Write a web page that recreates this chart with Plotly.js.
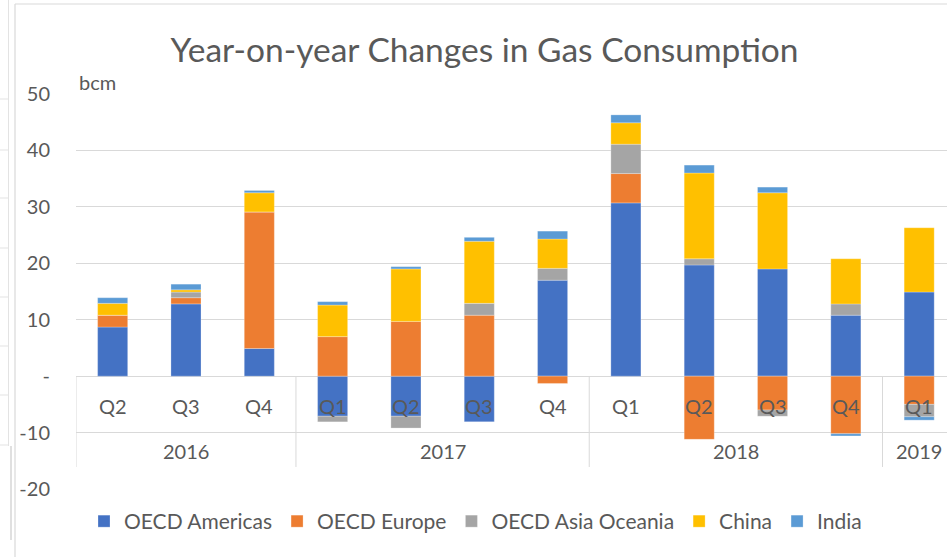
<!DOCTYPE html>
<html>
<head>
<meta charset="utf-8">
<script src="https://cdn.plot.ly/plotly-3.0.1.min.js"></script>
<style>
  html, body { margin: 0; padding: 0; background: #ffffff; overflow: hidden; }
  #chart { width: 947px; height: 557px; }
</style>
</head>
<body>
<div id="chart"></div>
<script>
// ---- data (bcm, year-on-year change) ----
const quarters = ['Q2','Q3','Q4','Q1','Q2','Q3','Q4','Q1','Q2','Q3','Q4','Q1'];
const quarterYears = ['2016','2016','2016','2017','2017','2017','2017','2018','2018','2018','2018','2019'];
const seriesNames = ['OECD Americas','OECD Europe','OECD Asia Oceania','China','India'];
const oecdAmericas    = [8.7, 12.8, 4.9, -7.1, -7.1, -8.1, 17.0, 30.7, 19.7, 19.0, 10.8, 14.9];
const oecdEurope      = [2.1, 1.1, 24.2, 7.0, 9.7, 10.8, -1.3, 5.2, -11.2, -6.0, -10.2, -5.0];
const oecdAsiaOceania = [0.0, 1.0, 0.0, -1.0, -2.1, 2.1, 2.1, 5.2, 1.1, -1.1, 2.0, -2.2];
const china           = [2.1, 0.4, 3.4, 5.6, 9.3, 11.0, 5.2, 3.8, 15.2, 13.5, 8.0, 11.4];
const india           = [1.0, 1.0, 0.4, 0.6, 0.4, 0.7, 1.4, 1.4, 1.4, 1.0, -0.4, -0.6];
const yTickVals = [-20, -10, 0, 10, 20, 30, 40, 50];
const yTickText = ['-20', '-10', '-', '10', '20', '30', '40', '50'];

// ---- styling ----
const colors = ['#4472C4', '#ED7D31', '#A5A5A5', '#FFC000', '#5B9BD5'];
const FONT = 'Lato, "Liberation Sans", sans-serif';
const TXT = '#595959';
const GRID = '#D9D9D9';

// page geometry helpers (pixels -> paper)
const PL = 76, PR = 947, PT = 94, PB = 489;
const px = v => (v - PL) / (PR - PL);
const py = v => (PB - v) / (PB - PT);

const xIdx = quarters.map((q, i) => i);
const seriesData = [oecdAmericas, oecdEurope, oecdAsiaOceania, china, india];

const traces = seriesData.map((vals, k) => ({
  type: 'bar',
  name: seriesNames[k],
  x: xIdx,
  y: vals,
  marker: { color: colors[k], line: { color: 'rgba(255,255,255,0.5)', width: 0.5 } },
  hoverinfo: 'name+y'
}));

// category-axis labels drawn at the zero line (quarters) and year groups
const annotations = [];
quarters.forEach((q, i) => {
  annotations.push({
    x: i, y: -5.3, xref: 'x', yref: 'y', text: q, showarrow: false,
    xanchor: 'center', yanchor: 'middle', font: { family: FONT, size: 20, color: TXT }
  });
});
const shapes = [];
// year groups from consecutive runs
let start = 0;
const groups = [];
for (let i = 1; i <= quarterYears.length; i++) {
  if (i === quarterYears.length || quarterYears[i] !== quarterYears[start]) {
    groups.push({ label: quarterYears[start], from: start, to: i - 1 });
    start = i;
  }
}
const sepBottom = -16.1;
shapes.push({ type: 'line', xref: 'x', yref: 'y', x0: -0.5, x1: -0.5, y0: 0, y1: sepBottom,
  line: { color: GRID, width: 1 } });
groups.forEach((g, gi) => {
  annotations.push({
    x: (g.from + g.to) / 2, y: -13.2, xref: 'x', yref: 'y', text: g.label, showarrow: false,
    xanchor: 'center', yanchor: 'middle', font: { family: FONT, size: 20, color: TXT }
  });
  if (gi < groups.length - 1) {
    shapes.push({ type: 'line', xref: 'x', yref: 'y', x0: g.to + 0.5, x1: g.to + 0.5, y0: 0, y1: sepBottom,
      line: { color: GRID, width: 1 } });
  }
});
// unit label
annotations.push({
  x: px(77), y: py(82), xref: 'paper', yref: 'paper', text: 'bcm', showarrow: false,
  xanchor: 'left', yanchor: 'middle', font: { family: FONT, size: 20, color: TXT }
});

// chart-area border and spreadsheet remnants at the left
shapes.push({ type: 'line', xref: 'paper', yref: 'paper', x0: px(15), x1: px(15), y0: py(4), y1: py(560),
  line: { color: '#D9D9D9', width: 1.2 } });
shapes.push({ type: 'line', xref: 'paper', yref: 'paper', x0: px(15), x1: px(950), y0: py(4), y1: py(4),
  line: { color: '#D9D9D9', width: 1.2 } });
shapes.push({ type: 'line', xref: 'paper', yref: 'paper', x0: px(8.5), x1: px(8.5), y0: py(0), y1: py(446),
  line: { color: '#E3E3E3', width: 1 } });
shapes.push({ type: 'line', xref: 'paper', yref: 'paper', x0: px(11), x1: px(11), y0: py(446), y1: py(540),
  line: { color: '#E0E0E0', width: 2 } });
[99, 150, 198, 248, 297, 346, 395, 445].forEach(yy => {
  shapes.push({ type: 'line', xref: 'paper', yref: 'paper', x0: px(0), x1: px(9), y0: py(yy), y1: py(yy),
    line: { color: '#E3E3E3', width: 1 } });
});

const layout = {
  width: 947, height: 557,
  margin: { l: PL, r: 947 - PR, t: PT, b: 557 - PB, pad: 0 },
  paper_bgcolor: '#ffffff', plot_bgcolor: '#ffffff',
  font: { family: FONT, color: TXT, size: 20 },
  title: {
    text: 'Year-on-year Changes in Gas Consumption',
    font: { family: FONT, size: 33.5, color: TXT },
    xref: 'container', yref: 'container', x: 484.5 / 947, y: 1 - 50 / 557,
    xanchor: 'center', yanchor: 'middle'
  },
  barmode: 'relative',
  bargap: 0.59,
  showlegend: true,
  legend: {
    orientation: 'h', x: px(84), y: py(501), xanchor: 'left', yanchor: 'top',
    font: { family: FONT, size: 21, color: TXT }, bgcolor: 'rgba(0,0,0,0)', traceorder: 'normal'
  },
  xaxis: {
    range: [-0.5, -0.5 + (PR - PL) / 73.32], showticklabels: false, showgrid: false,
    zeroline: false, showline: false, ticks: '', fixedrange: true
  },
  yaxis: {
    range: [-20, 50], tickvals: yTickVals, ticktext: yTickText,
    showgrid: true, gridcolor: GRID, gridwidth: 1,
    zeroline: true, zerolinecolor: GRID, zerolinewidth: 1,
    showline: false, ticks: '', ticklabelstandoff: 25,
    tickfont: { family: FONT, size: 20, color: TXT }, fixedrange: true
  },
  annotations: annotations,
  shapes: shapes
};

Plotly.newPlot('chart', traces, layout, { displayModeBar: false, staticPlot: true });
</script>
</body>
</html>
